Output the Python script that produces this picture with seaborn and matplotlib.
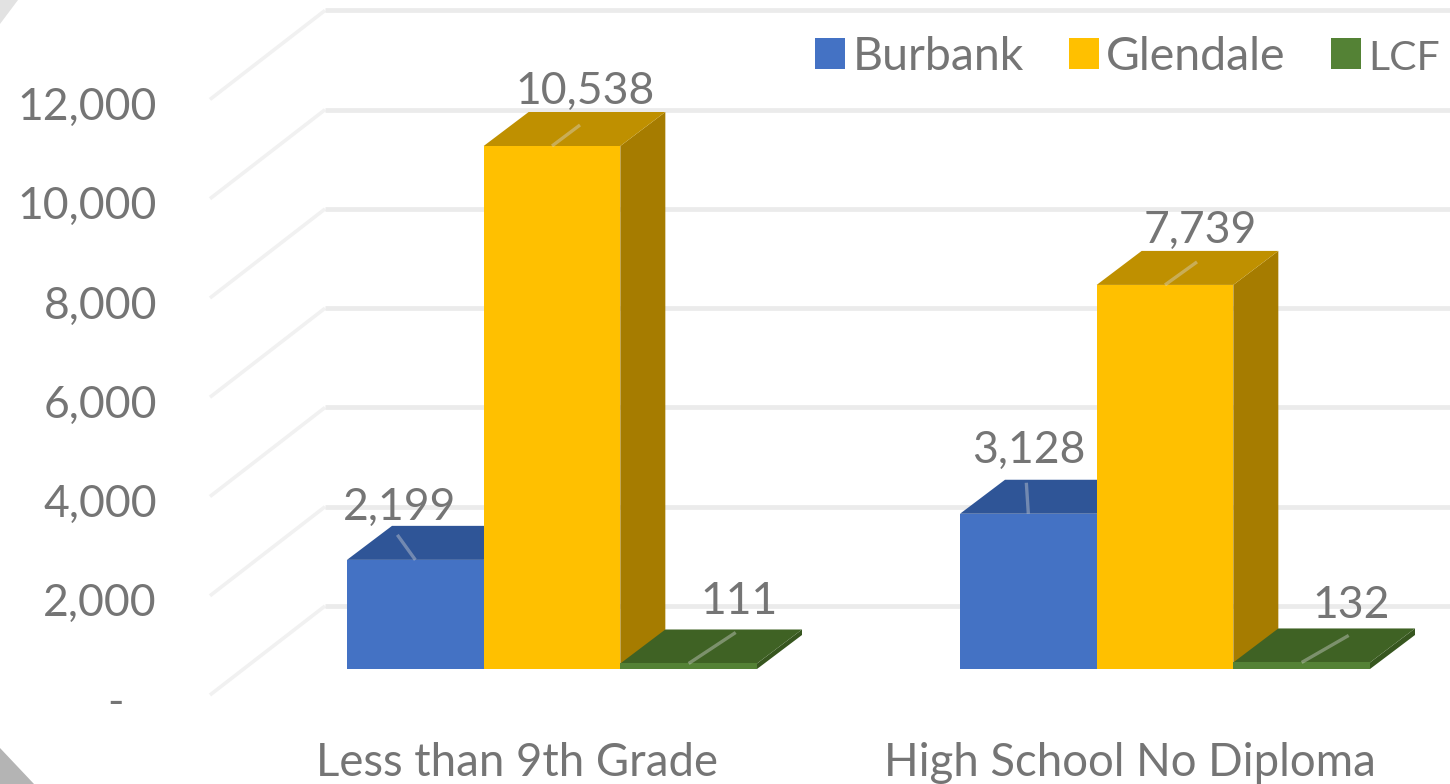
import numpy as np
import pandas as pd
import matplotlib
matplotlib.use("Agg")
import matplotlib.pyplot as plt
import matplotlib.transforms as mtrans
from matplotlib.patches import Polygon
import seaborn as sns

# Data
categories = ["Less than 9th Grade", "High School No Diploma"]
burbank = [2199, 3128]
glendale = [10538, 7739]
lcf = [111, 132]
y_ticks = [0, 2000, 4000, 6000, 8000, 10000, 12000]
y_tick_labels = ["-", "2,000", "4,000", "6,000", "8,000", "10,000", "12,000"]

# Colours
front_colors = {"Burbank": "#4472C4", "Glendale": "#FFC000", "LCF": "#548235"}
top_colors = ["#2F5597", "#BF9000", "#3F6224"]
side_colors = ["#2A4C88", "#A67C00", "#37561F"]
grid_color = "#EBEBEB"
text_color = "#757575"

# Layout, in pixels of the 1450x784 picture
W, H = 1450, 784
base_px = 669          # where value 0 sits on the front of the bars
px_per_unit = 0.04963
group_px = 613
first_center_px = 552
depth_px = (45, 34)
wall_front_px = (210, 26)   # side wall front end, relative to the bar baseline
wall_back_px = (325, -63)
label_shift_px = [(-16, -52), (0, -63), (33, -55), (35, -54), (50, -62), (49, -57)]
leader_px = [(-18, -25), (-2, -31), (28, -21), (32, -23), (47, -31), (47, -27)]
fs_num = 32
fs_cat = 32.8
fs_leg = 33.5
fs_leg_lcf = 29.5   # the short name runs narrower than the rest in the reference

df = pd.DataFrame({
    "Category": categories * 3,
    "Value": burbank + glendale + lcf,
    "City": ["Burbank"] * 2 + ["Glendale"] * 2 + ["LCF"] * 2,
})

sns.set_theme(style="white")
plt.rcParams["font.family"] = ["Lato", "DejaVu Sans"]

fig = plt.figure(figsize=(W / 100, H / 100), dpi=100)
ax = fig.add_axes([0, 0, 1, 1])

sns.barplot(data=df, x="Category", y="Value", hue="City", palette=front_colors,
            width=410 / group_px, saturation=1, linewidth=0, zorder=4, ax=ax)

# data units of one pixel
ux = 1.0 / group_px
uy = 1.0 / px_per_unit
ax.set_xlim(-first_center_px * ux, (W - first_center_px) * ux)
ax.set_ylim((base_px - H) * uy, base_px * uy)
sns.despine(ax=ax, left=True, bottom=True)
ax.grid(False)

# back wall and side wall gridlines
x0 = wall_front_px[0] * ux + ax.get_xlim()[0]
x1 = wall_back_px[0] * ux + ax.get_xlim()[0]
x2 = ax.get_xlim()[1]
for v in y_ticks:
    yf = v - wall_front_px[1] * uy
    yb = v - wall_back_px[1] * uy
    ax.plot([x0, x1], [yf, yb], color="#F1F1F1", lw=2.6, zorder=1, solid_capstyle="butt")
    ax.plot([x1, x2], [yb, yb], color=grid_color, lw=3.4, zorder=1, solid_capstyle="butt")

# 3D faces built from the bars seaborn drew
dx = depth_px[0] * ux
dy = depth_px[1] * uy
for s, cont in enumerate(ax.containers):
    for b, bar in enumerate(cont):
        l, r = bar.get_x(), bar.get_x() + bar.get_width()
        t = bar.get_height()
        top = [(l, t), (r, t), (r + dx, t + dy), (l + dx, t + dy)]
        side = [(r, 0), (r + dx, dy), (r + dx, t + dy), (r, t)]
        z = 2 + s * 0.1
        ax.add_patch(Polygon(side, closed=True, fc=side_colors[s], ec="none", zorder=z))
        ax.add_patch(Polygon(top, closed=True, fc=top_colors[s], ec="none", zorder=z + 0.05))

        # data label with its leader line
        k = s * 2 + b
        cx, cy = (l + r) / 2, t
        lx, ly = leader_px[k]
        ax.plot([cx, cx + lx * ux], [cy, cy - ly * uy],
                color="#D9D9D9", alpha=0.4, lw=2.4, zorder=5, solid_capstyle="butt")
        sx, sy = label_shift_px[k]
        ax.annotate(f"{int(t):,}", (cx, cy), xytext=(sx * 0.72, -sy * 0.72),
                    textcoords="offset points", ha="center", va="center",
                    fontsize=fs_num, color=text_color, zorder=6)

# axis ticks stay real ticks, moved inside the full-figure axes
ax.set_xticks(range(len(categories)), categories)
ax.set_yticks(y_ticks, y_tick_labels)
ax.set_xlabel("")
ax.set_ylabel("")
ax.tick_params(axis="x", length=0, pad=-42 * 0.72, labelsize=fs_cat, labelcolor=text_color)
ax.tick_params(axis="y", length=0, pad=-157 * 0.72, labelsize=fs_num, labelcolor=text_color)
for lab in ax.get_xticklabels():
    lab.set_transform(lab.get_transform() + mtrans.ScaledTranslation(-35 / 100, 0, fig.dpi_scale_trans))
for lab in ax.get_yticklabels():
    shift = -33 if lab.get_text() == "-" else 0
    lab.set_transform(lab.get_transform() + mtrans.ScaledTranslation(shift / 100, -30 / 100, fig.dpi_scale_trans))

# legend
handles, labels = ax.get_legend_handles_labels()
leg = ax.legend(handles, labels, ncols=3, frameon=False, loc="center left",
                bbox_to_anchor=(815 / W, 1 - 57 / H), borderpad=0, borderaxespad=0,
                handlelength=0.645, handleheight=0.645, handletextpad=0.16, columnspacing=0.97,
                prop={"size": fs_leg}, labelcolor=text_color)
leg.get_texts()[2].set_fontsize(fs_leg_lcf)

# chart area corners
ax.add_patch(Polygon([(0, 1), (18 / W, 1), (0, 1 - 24 / H)], transform=ax.transAxes,
                     fc="#E2E2E2", ec="none", zorder=7))
ax.add_patch(Polygon([(0, 0), (34 / W, 0), (0, 36 / H)], transform=ax.transAxes,
                     fc="#B4B4B4", ec="none", zorder=7))

fig.savefig("out.png", dpi=100)
